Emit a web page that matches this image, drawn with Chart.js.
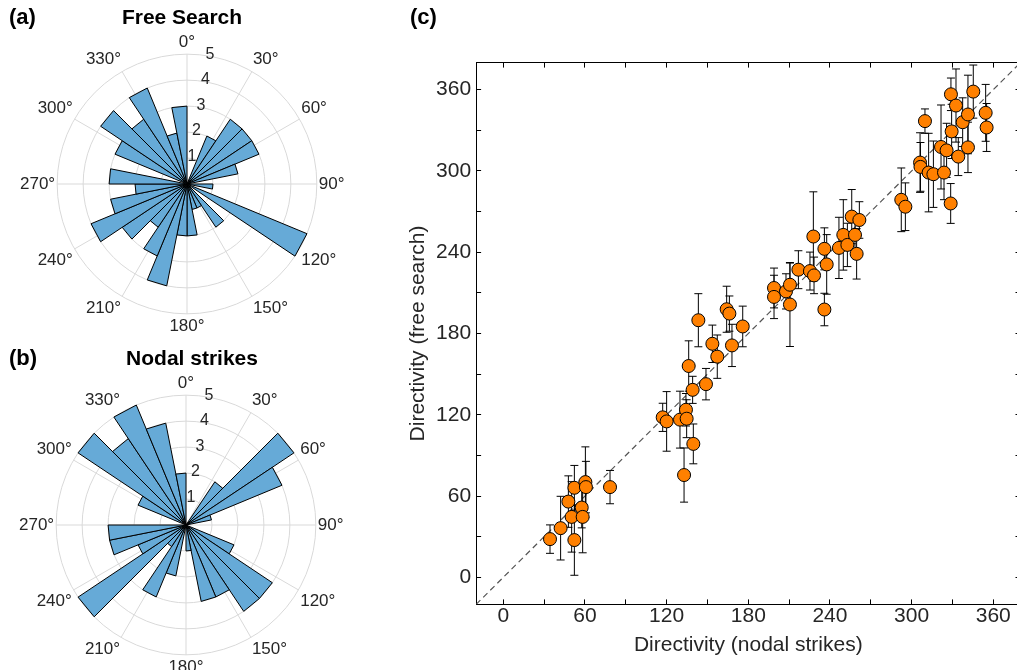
<!DOCTYPE html>
<html><head><meta charset="utf-8">
<script src="https://cdn.jsdelivr.net/npm/chart.js@4.4.1/dist/chart.umd.min.js"></script>
<style>
html,body{margin:0;padding:0;width:1017px;height:670px;overflow:hidden;background:#fff;font-family:'Liberation Sans',Arial,sans-serif;}
canvas{position:absolute;}
.lbl{position:absolute;font-weight:bold;color:#000;white-space:nowrap;line-height:1;z-index:5;}
</style></head><body>
<canvas id="ca" width="335" height="335" style="left:15px;top:17px"></canvas>
<canvas id="cb" width="335" height="335" style="left:14px;top:358px"></canvas>
<canvas id="cc" width="650" height="630" style="left:390px;top:40px"></canvas>
<div class="lbl" style="left:9px;top:6px;font-size:22px;">(a)</div>
<div class="lbl" style="left:182px;top:6px;font-size:21px;transform:translateX(-50%);">Free Search</div>
<div class="lbl" style="left:9px;top:347px;font-size:22px;">(b)</div>
<div class="lbl" style="left:192px;top:347px;font-size:21px;transform:translateX(-50%);">Nodal strikes</div>
<div class="lbl" style="left:410px;top:6px;font-size:22px;">(c)</div>
<script>
// ---- rose histograms: 32 bins of 11.25 deg, clockwise from north ----
const angleLabels = ['0°','30°','60°','90°','120°','150°','180°','210°','240°','270°','300°','330°'];
const rTicks = [1, 2, 3, 4, 5];
const freeSearchCounts = [0,0,2,3,3,3,2,0,1,0,5,0,2,1,1,2,2,4,3,2,3,4,3,2,3,0,3,4,3,4,2,3];
const nodalCounts      = [0,0,0,2,5,4,1,0,0,0,2,4,4,3,3,1,0,2,3,1,5,2,3,3,0,0,2,5,4,5,4,2];

// ---- panel (c): directivity, nodal strikes (x) vs free search (y) with error ----
const nodalStrike = [34.3,42.1,52.2,47.8,50.2,52.2,57.6,58.3,60.3,60.7,78.4,
  117.1,120.0,129.8,134.2,134.7,132.8,139.6,136.2,139.1,148.9,143.3,153.6,157.2,164.1,166.1,168.0,175.9,
  198.9,198.9,207.7,210.6,210.6,216.8,225.3,228.3,227.8,235.9,237.6,235.9,246.6,249.8,252.8,256.0,258.4,259.6,261.6,
  292.4,295.4,306.2,306.5,309.8,312.5,316.0,321.6,323.8,325.7,328.7,328.9,329.4,332.6,334.3,337.5,341.4,341.4,345.3,354.4,355.1];
const freeSearch = [28.2,36.3,27.5,55.9,44.6,66.1,51.5,44.6,70.3,66.6,66.6,
  118.1,115.1,116.4,123.7,117.1,75.5,98.5,156.0,138.4,142.6,189.8,172.4,162.9,197.9,194.7,171.2,185.2,
  213.6,207.0,211.1,216.0,201.4,227.1,226.1,222.9,251.6,242.5,231.0,197.7,243.2,252.8,245.4,266.3,252.8,238.8,263.8,
  278.7,273.6,306.2,303.0,336.8,298.8,297.6,317.7,298.8,315.2,276.0,356.6,329.2,348.3,310.6,336.0,341.7,317.4,358.6,342.9,332.1];
const errFree = [10.5,23.5,26,19,26,16.5,15,26.5,26,19,12.3,
  10.4,22,21,12,14,20,14.7,18.6,10,11.6,19.6,13.8,16,17,13,15.6,15,
  14.7,16,13,16,31,14,14,13.5,33,15.5,22,12,22.6,26,16,20,15,18.6,13.5,
  23.5,17.6,22,18,9,29,24.5,31,20,20,14.7,12,20,27,14,18,29,18.6,19.6,21,17.7];
const xTickValues = [0, 60, 120, 180, 240, 300, 360];

const family = "'Liberation Sans', Arial, Helvetica, sans-serif";
const txt = '#262626';
const gridGray = '#d9d9d9';
const barFill = '#66aad7';
Chart.defaults.font.family = family;
Chart.defaults.color = txt;

const rTickPlugin = {
  id: 'rTickLabels',
  afterDatasetsDraw(chart) {
    const s = chart.scales.r, ctx = chart.ctx;
    const a = 10 * Math.PI / 180;
    ctx.save();
    ctx.fillStyle = txt;
    ctx.font = '16px ' + family;
    ctx.textAlign = 'center';
    ctx.textBaseline = 'middle';
    rTicks.forEach(v => {
      const d = s.getDistanceFromCenterForValue(v) + 2;
      ctx.fillText(String(v), s.xCenter + d * Math.sin(a), s.yCenter - d * Math.cos(a));
    });
    ctx.restore();
  }
};

function rose(id, counts) {
  return new Chart(document.getElementById(id), {
    type: 'polarArea',
    data: { labels: angleLabels, datasets: [{
      data: counts, backgroundColor: barFill, borderColor: '#000', borderWidth: 1, circular: false
    }]},
    options: {
      responsive: false, animation: false,
      layout: { padding: 0 },
      plugins: { legend: { display: false }, tooltip: { enabled: false } },
      scales: { r: {
        min: 0, max: 5, startAngle: 0,
        ticks: { display: false, stepSize: 1 },
        grid: { color: gridGray, lineWidth: 1, circular: true },
        angleLines: { display: true, color: gridGray, lineWidth: 1 },
        pointLabels: { display: true, padding: 2, color: txt, centerPointLabels: false, font: { size: 17, family } }
      }}
    },
    plugins: [rTickPlugin]
  });
}
rose('ca', freeSearchCounts);
rose('cb', nodalCounts);

// ---- scatter with error bars ----
const pts = nodalStrike.map((x, i) => ({ x, y: freeSearch[i] }));
const errLines = [], caps = [];
nodalStrike.forEach((x, i) => {
  const lo = freeSearch[i] - errFree[i], hi = freeSearch[i] + errFree[i];
  errLines.push({ x, y: lo }, { x, y: hi }, { x, y: null });
  caps.push({ x, y: lo }, { x, y: hi });
});
const diag = [{ x: -20, y: -20 }, { x: 380, y: 380 }];

const axisFont = { family, size: 21 };
function axis(pos, main) {
  const horiz = pos === 'top' || pos === 'bottom';
  const o = {
    type: 'linear', position: pos, min: -20, max: 380,
    ticks: {
      stepSize: 30, includeBounds: false, autoSkip: false, maxRotation: 0, minRotation: 0,
      color: txt, font: axisFont, padding: horiz ? 4 : 10,
      callback: v => (main && xTickValues.includes(v)) ? String(v) : ''
    },
    grid: { drawOnChartArea: false, drawTicks: true, tickLength: -5, color: '#000', tickColor: '#000', lineWidth: 1 },
    border: { display: true, color: '#000', width: 1 },
    afterFit: s => {
      if (pos === 'bottom') s.height = 65.6;
      else if (pos === 'left') s.width = 86.1;
      else if (pos === 'top') s.height = 0;
      else s.width = 0;
    }
  };
  if (pos === 'bottom') o.title = { display: true, text: 'Directivity (nodal strikes)', color: txt, font: axisFont, padding: { top: 0, bottom: 12.4 } };
  if (pos === 'left') o.title = { display: true, text: 'Directivity (free search)', color: txt, font: axisFont, padding: { top: 15.4, bottom: 0 } };
  return o;
}

new Chart(document.getElementById('cc'), {
  type: 'scatter',
  data: { datasets: [
    { data: pts, pointRadius: 6.5, pointBackgroundColor: '#ff8000', pointBorderColor: '#000', pointBorderWidth: 1, showLine: false, order: 0, xAxisID: 'x', yAxisID: 'y' },
    { data: caps, pointStyle: 'line', pointRadius: 4, pointBorderColor: '#000', pointBorderWidth: 1, showLine: false, order: 1, xAxisID: 'x', yAxisID: 'y' },
    { type: 'line', data: errLines, borderColor: '#000', borderWidth: 1, pointRadius: 0, spanGaps: false, fill: false, order: 2, xAxisID: 'x', yAxisID: 'y' },
    { type: 'line', data: diag, borderColor: '#555555', borderWidth: 1.2, borderDash: [6, 4], pointRadius: 0, fill: false, order: 3, xAxisID: 'x', yAxisID: 'y' }
  ]},
  options: {
    responsive: false, animation: false,
    layout: { padding: { left: 0, top: 20, right: 19.5, bottom: 0 } },
    plugins: { legend: { display: false }, tooltip: { enabled: false } },
    scales: { x: axis('bottom', true), x2: axis('top', false), y: axis('left', true), y2: axis('right', false) }
  }
});
</script>
</body></html>
